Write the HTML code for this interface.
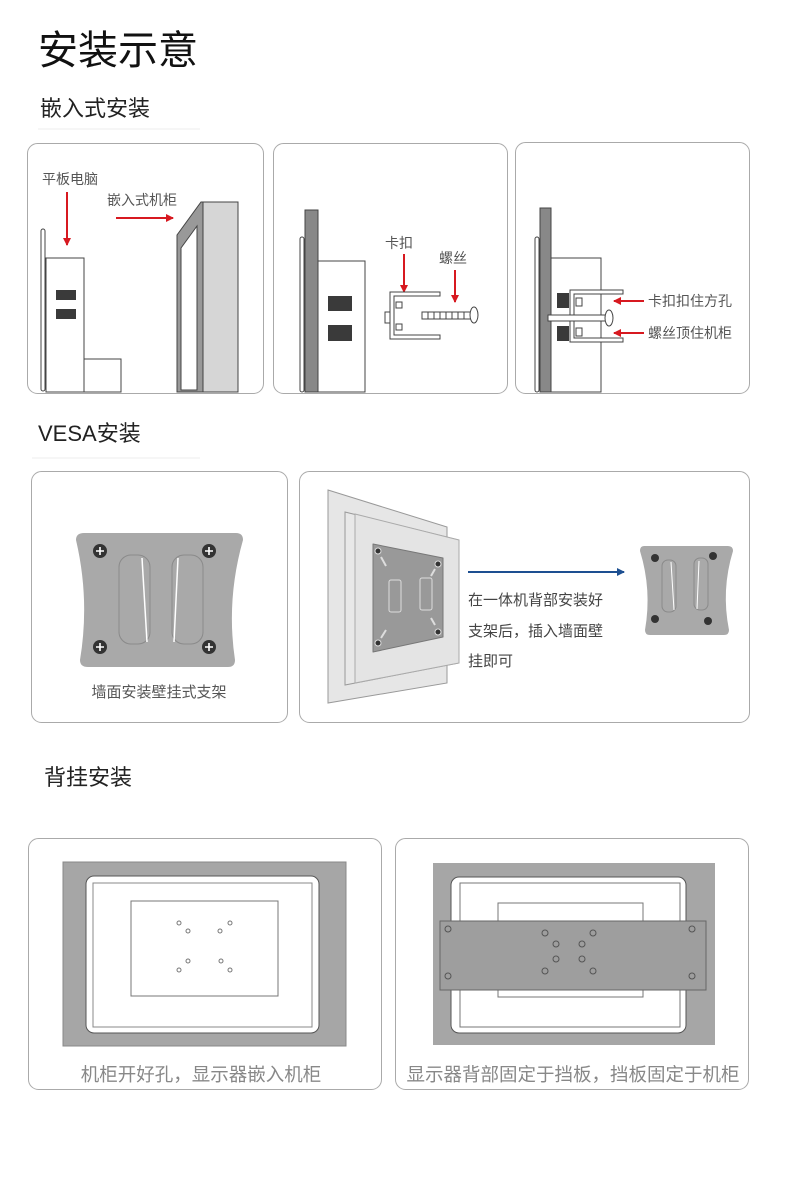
<!DOCTYPE html>
<html><head><meta charset="utf-8"><style>
html,body{margin:0;padding:0;background:#fff;}
svg{display:block;}
text{font-family:"Liberation Sans","Noto Sans CJK SC",sans-serif;}
</style></head><body>
<svg width="800" height="1200" viewBox="0 0 800 1200" xmlns="http://www.w3.org/2000/svg">
<defs>
<marker id="ar" markerWidth="8" markerHeight="8" refX="7" refY="4" orient="auto" markerUnits="userSpaceOnUse"><path d="M0,0 L8,4 L0,8 z" fill="#d71920"/></marker>
<marker id="ab" markerWidth="8" markerHeight="8" refX="7" refY="4" orient="auto" markerUnits="userSpaceOnUse"><path d="M0,0 L8,4 L0,8 z" fill="#1d4f91"/></marker>
</defs>
<text x="38" y="64" font-size="40" fill="#111">安装示意</text>
<text x="40" y="116" font-size="22" fill="#222">嵌入式安装</text>
<line x1="38" y1="129" x2="200" y2="129" stroke="#eee"/>
<text x="38" y="441" font-size="22" fill="#222">VESA安装</text>
<line x1="32" y1="458" x2="200" y2="458" stroke="#eee"/>
<text x="44" y="785" font-size="22" fill="#222">背挂安装</text>

<g fill="none" stroke="#aaa" stroke-width="1">
<rect x="27.5" y="143.5" width="236" height="250" rx="10"/>
<rect x="273.5" y="143.5" width="234" height="250" rx="10"/>
<rect x="515.5" y="142.5" width="234" height="251" rx="10"/>
<rect x="31.5" y="471.5" width="256" height="251" rx="10"/>
<rect x="299.5" y="471.5" width="450" height="251" rx="10"/>
<rect x="28.5" y="838.5" width="353" height="251" rx="10"/>
<rect x="395.5" y="838.5" width="353" height="251" rx="10"/>
</g>

<!-- panel1 -->
<rect x="41" y="229" width="4" height="162" rx="2" fill="#fff" stroke="#444"/>
<rect x="46" y="258" width="38" height="134" fill="#fff" stroke="#444"/>
<rect x="56" y="290" width="20" height="10" fill="#3a3a3a"/>
<rect x="56" y="309" width="20" height="10" fill="#3a3a3a"/>
<rect x="84" y="359" width="37" height="33" fill="#fff" stroke="#444"/>
<text x="42" y="184" font-size="14" fill="#555">平板电脑</text>
<line x1="67" y1="192" x2="67" y2="245" stroke="#d71920" stroke-width="2" marker-end="url(#ar)"/>
<text x="107" y="205" font-size="14" fill="#555">嵌入式机柜</text>
<line x1="116" y1="218" x2="173" y2="218" stroke="#d71920" stroke-width="2" marker-end="url(#ar)"/>
<polygon points="177,392 177,235 201,202 203,202 203,392" fill="#999" stroke="#444"/>
<polygon points="181,390 181,248 197,226 197,390" fill="#fff" stroke="#444"/>
<rect x="203" y="202" width="35" height="190" fill="#d6d6d6" stroke="#444"/>

<!-- panel2 -->
<rect x="300" y="237" width="4" height="155" rx="2" fill="#fff" stroke="#444"/>
<rect x="305" y="210" width="13" height="182" fill="#888" stroke="#444"/>
<rect x="318" y="261" width="47" height="131" fill="#fff" stroke="#444"/>
<rect x="328" y="296" width="24" height="15" fill="#3a3a3a"/>
<rect x="328" y="325" width="24" height="16" fill="#3a3a3a"/>
<text x="385" y="248" font-size="14" fill="#555">卡扣</text>
<line x1="404" y1="254" x2="404" y2="292" stroke="#d71920" stroke-width="2" marker-end="url(#ar)"/>
<text x="439" y="263" font-size="14" fill="#555">螺丝</text>
<line x1="455" y1="270" x2="455" y2="302" stroke="#d71920" stroke-width="2" marker-end="url(#ar)"/>
<path d="M440,292 H390 V339 H440 V335 H394 V296 H440 Z" fill="#fff" stroke="#444"/>
<rect x="396" y="302" width="6" height="6" fill="#fff" stroke="#444"/>
<rect x="396" y="324" width="6" height="6" fill="#fff" stroke="#444"/>
<rect x="385" y="312" width="5" height="11" fill="#fff" stroke="#444"/>
<rect x="422" y="312" width="50" height="7" fill="#fff" stroke="#444"/>
<g stroke="#444"><line x1="428" y1="312" x2="428" y2="319"/><line x1="434" y1="312" x2="434" y2="319"/><line x1="440" y1="312" x2="440" y2="319"/><line x1="446" y1="312" x2="446" y2="319"/><line x1="452" y1="312" x2="452" y2="319"/><line x1="458" y1="312" x2="458" y2="319"/><line x1="464" y1="312" x2="464" y2="319"/></g>
<ellipse cx="474" cy="315" rx="4" ry="8" fill="#fff" stroke="#444"/>

<!-- panel3 -->
<rect x="535" y="237" width="4" height="155" rx="2" fill="#fff" stroke="#444"/>
<rect x="540" y="208" width="11" height="184" fill="#888" stroke="#444"/>
<rect x="551" y="258" width="50" height="134" fill="#fff" stroke="#444"/>
<rect x="557" y="293" width="12" height="15" fill="#3a3a3a"/>
<rect x="557" y="326" width="12" height="15" fill="#3a3a3a"/>
<path d="M623,290 H570 V342 H623 V338 H574 V294 H623 Z" fill="#fff" stroke="#444"/>
<rect x="576" y="298" width="6" height="8" fill="#fff" stroke="#444"/>
<rect x="576" y="328" width="6" height="8" fill="#fff" stroke="#444"/>
<rect x="548" y="315" width="60" height="6" fill="#fff" stroke="#444"/>
<ellipse cx="609" cy="318" rx="4" ry="8" fill="#fff" stroke="#444"/>
<line x1="644" y1="301" x2="614" y2="301" stroke="#d71920" stroke-width="2" marker-end="url(#ar)"/>
<line x1="644" y1="333" x2="614" y2="333" stroke="#d71920" stroke-width="2" marker-end="url(#ar)"/>
<text x="648" y="306" font-size="14" fill="#555">卡扣扣住方孔</text>
<text x="648" y="338" font-size="14" fill="#555">螺丝顶住机柜</text>

<!-- VESA 1 -->
<path d="M84,533 H236 Q243,533 243,540 Q226,600 235,660 Q235,667 228,667 H88 Q80,667 80,660 Q90,600 76,540 Q76,533 84,533 Z" fill="#a9a9a9"/>
<rect x="119" y="555" width="31" height="89" rx="12" fill="none" stroke="#8a8a8a"/>
<rect x="172" y="555" width="31" height="89" rx="12" fill="none" stroke="#8a8a8a"/>
<line x1="142" y1="558" x2="147" y2="642" stroke="#fff" stroke-width="1.5"/>
<line x1="178" y1="558" x2="174" y2="642" stroke="#fff" stroke-width="1.5"/>
<g fill="#333"><circle cx="100" cy="551" r="7"/><circle cx="209" cy="551" r="7"/><circle cx="100" cy="647" r="7"/><circle cx="209" cy="647" r="7"/></g>
<g stroke="#fff" stroke-width="1.6"><path d="M96,551h8M100,547v8M205,551h8M209,547v8M96,647h8M100,643v8M205,647h8M209,643v8"/></g>
<text x="159" y="697" font-size="15" fill="#555" text-anchor="middle">墙面安装壁挂式支架</text>

<!-- VESA 2 -->
<polygon points="328,490 447,527 447,683 328,703" fill="#e6e6e6" stroke="#999"/>
<polygon points="345,512 459,540 459,663 345,685" fill="#e8e8e8" stroke="#999"/>
<polygon points="355,514 459,540 459,663 355,683" fill="#e4e4e4" stroke="#aaa"/>
<polygon points="373,544 443,558 443,637 373,652" fill="#999" stroke="#777" stroke-linejoin="round"/>
<rect x="389" y="580" width="12" height="32" rx="2" fill="none" stroke="#ddd"/>
<rect x="420" y="578" width="12" height="32" rx="2" fill="none" stroke="#ddd"/>
<g fill="#333" stroke="#ddd"><circle cx="378" cy="551" r="3"/><circle cx="438" cy="564" r="3"/><circle cx="438" cy="632" r="3"/><circle cx="378" cy="643" r="3"/></g>
<g stroke="#ddd" stroke-width="2"><line x1="381" y1="557" x2="386" y2="566"/><line x1="435" y1="569" x2="431" y2="576"/><line x1="435" y1="625" x2="431" y2="618"/><line x1="381" y1="638" x2="386" y2="630"/></g>
<line x1="468" y1="572" x2="624" y2="572" stroke="#1d4f91" stroke-width="2" marker-end="url(#ab)"/>
<text x="468" y="605" font-size="15" fill="#444">在一体机背部安装好</text>
<text x="468" y="636" font-size="15" fill="#444">支架后，插入墙面壁</text>
<text x="468" y="666" font-size="15" fill="#444">挂即可</text>
<path d="M644,546 H728 Q733,546 733,551 Q721,590 729,630 Q729,635 724,635 H650 Q645,635 645,630 Q652,590 640,551 Q640,546 644,546 Z" fill="#a9a9a9"/>
<rect x="662" y="560" width="14" height="52" rx="6" fill="none" stroke="#8a8a8a"/>
<rect x="694" y="558" width="14" height="52" rx="6" fill="none" stroke="#8a8a8a"/>
<line x1="671" y1="562" x2="674" y2="610" stroke="#fff"/><line x1="699" y1="561" x2="697" y2="609" stroke="#fff"/>
<g fill="#333"><circle cx="655" cy="558" r="4"/><circle cx="713" cy="556" r="4"/><circle cx="655" cy="619" r="4"/><circle cx="708" cy="621" r="4"/></g>

<!-- row3 panel1 -->
<rect x="63" y="862" width="283" height="184" fill="#a6a6a6" stroke="#888"/>
<rect x="86" y="876" width="233" height="157" rx="8" fill="#fff" stroke="#555"/>
<rect x="93" y="883" width="219" height="144" fill="#fff" stroke="#888"/>
<rect x="131" y="901" width="147" height="95" fill="#fff" stroke="#777"/>
<g fill="none" stroke="#777"><circle cx="179" cy="923" r="2"/><circle cx="188" cy="931" r="2"/><circle cx="220" cy="931" r="2"/><circle cx="230" cy="923" r="2"/><circle cx="188" cy="961" r="2"/><circle cx="179" cy="970" r="2"/><circle cx="221" cy="961" r="2"/><circle cx="230" cy="970" r="2"/></g>
<text x="201" y="1081" font-size="18.5" fill="#888" text-anchor="middle">机柜开好孔，显示器嵌入机柜</text>

<!-- row3 panel2 -->
<rect x="433" y="863" width="282" height="182" fill="#a6a6a6"/>
<rect x="451" y="877" width="235" height="156" rx="8" fill="#fff" stroke="#555"/>
<rect x="460" y="883" width="220" height="144" fill="#fff" stroke="#777"/>
<rect x="498" y="903" width="145" height="94" fill="#fff" stroke="#777"/>
<rect x="440" y="921" width="266" height="69" fill="#9e9e9e" stroke="#666"/>
<g fill="none" stroke="#555"><circle cx="448" cy="929" r="3"/><circle cx="692" cy="929" r="3"/><circle cx="448" cy="976" r="3"/><circle cx="692" cy="976" r="3"/><circle cx="545" cy="933" r="3"/><circle cx="593" cy="933" r="3"/><circle cx="556" cy="944" r="3"/><circle cx="582" cy="944" r="3"/><circle cx="556" cy="959" r="3"/><circle cx="582" cy="959" r="3"/><circle cx="545" cy="971" r="3"/><circle cx="593" cy="971" r="3"/></g>
<text x="573" y="1081" font-size="18.5" fill="#888" text-anchor="middle">显示器背部固定于挡板，挡板固定于机柜</text>
</svg>
</body></html>
